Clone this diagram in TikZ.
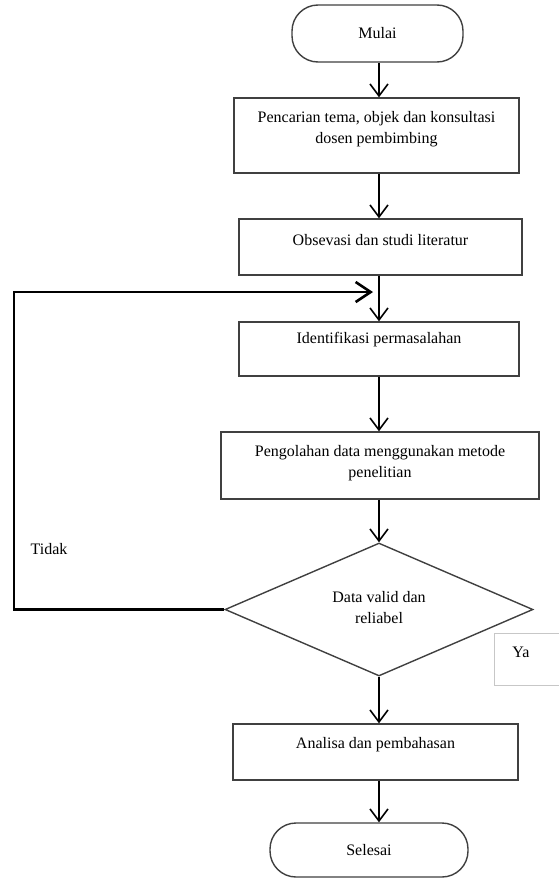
\documentclass[tikz,border=0pt]{standalone}
\usepackage{fontspec}
\setmainfont{Liberation Serif}
\usetikzlibrary{shapes.geometric,arrows.meta}

\begin{document}
\begin{tikzpicture}[x=1pt,y=-1pt,
  font=\fontsize{16}{21}\selectfont,
  kotak/.style={draw=black!75,line width=1.4pt,fill=white,rectangle,inner sep=0pt},
  terminal/.style={kotak,rounded corners=26pt},
  teks/.style={align=center,inner sep=0pt},
  panah/.style={line width=1.6pt,-{Straight Barb[length=12pt,width=18pt]}},
  balik/.style={line width=2.6pt,line join=miter,-{Straight Barb[length=15pt,width=20pt]}}]
%\draw[help lines] (0,0) grid[step=50] (558,878);
\useasboundingbox (0,0) rectangle (558,878);

 \node[terminal,minimum width=171pt,minimum height=57pt] (mulai) at (377.5,33.5) {Mulai};

 \node[kotak,minimum width=285pt,minimum height=75pt] (b1) at (376.5,135.5) {};
 \node[teks] (b1t) at (376.5,129) {Pencarian tema, objek dan konsultasi\\dosen pembimbing};

 \node[kotak,minimum width=283pt,minimum height=56pt] (b2) at (380.5,247) {};
 \node[teks] (b2t) at (380.5,240) {Obsevasi dan studi literatur};

 \node[kotak,minimum width=280pt,minimum height=54pt] (b3) at (379,349) {};
 \node[teks] (b3t) at (379,340) {Identifikasi permasalahan};

 \node[kotak,minimum width=318pt,minimum height=67pt] (b4) at (380,465.5) {};
 \node[teks] (b4t) at (380,463) {Pengolahan data menggunakan metode\\penelitian};

 \node[kotak,diamond,minimum width=308pt,minimum height=133pt] (cek) at (379,609.5) {};
 \node[teks] (cekt) at (379,608) {Data valid dan\\reliabel};

 \node[draw=black!22,line width=0.8pt,minimum width=70pt,minimum height=52pt,inner sep=0pt] (ya) at (529,659) {};
 \node[teks] (yat) at (521,652) {Ya};

 \node[kotak,minimum width=285pt,minimum height=56pt] (b5) at (375.5,752) {};
 \node[teks] (b5t) at (375.5,745) {Analisa dan pembahasan};

 \node[terminal,minimum width=198pt,minimum height=54pt] (selesai) at (369,850) {Selesai};

 \node[teks] (tidak) at (49,549) {Tidak};

% panah utama
 \coordinate (kol) at (379,0);
 \draw[panah] (mulai.south -| kol) -- (b1.north -| kol);
 \draw[panah] (b1.south -| kol) -- (b2.north -| kol);
 \draw[panah] (b2.south -| kol) -- (b3.north -| kol);
 \draw[panah] (b3.south -| kol) -- (b4.north -| kol);
 \draw[panah] (b4.south -| kol) -- (cek.north);
 \draw[panah] (cek.south) -- (b5.north -| kol);
 \draw[panah] (b5.south -| kol) -- (selesai.north -| kol);

% kembali bila tidak valid
 \coordinate (kiri) at (14,292);
 \coordinate (ujung) at (373,292);
 \draw[balik] (cek.west) -| (kiri) -- (ujung);

\end{tikzpicture}
\end{document}
